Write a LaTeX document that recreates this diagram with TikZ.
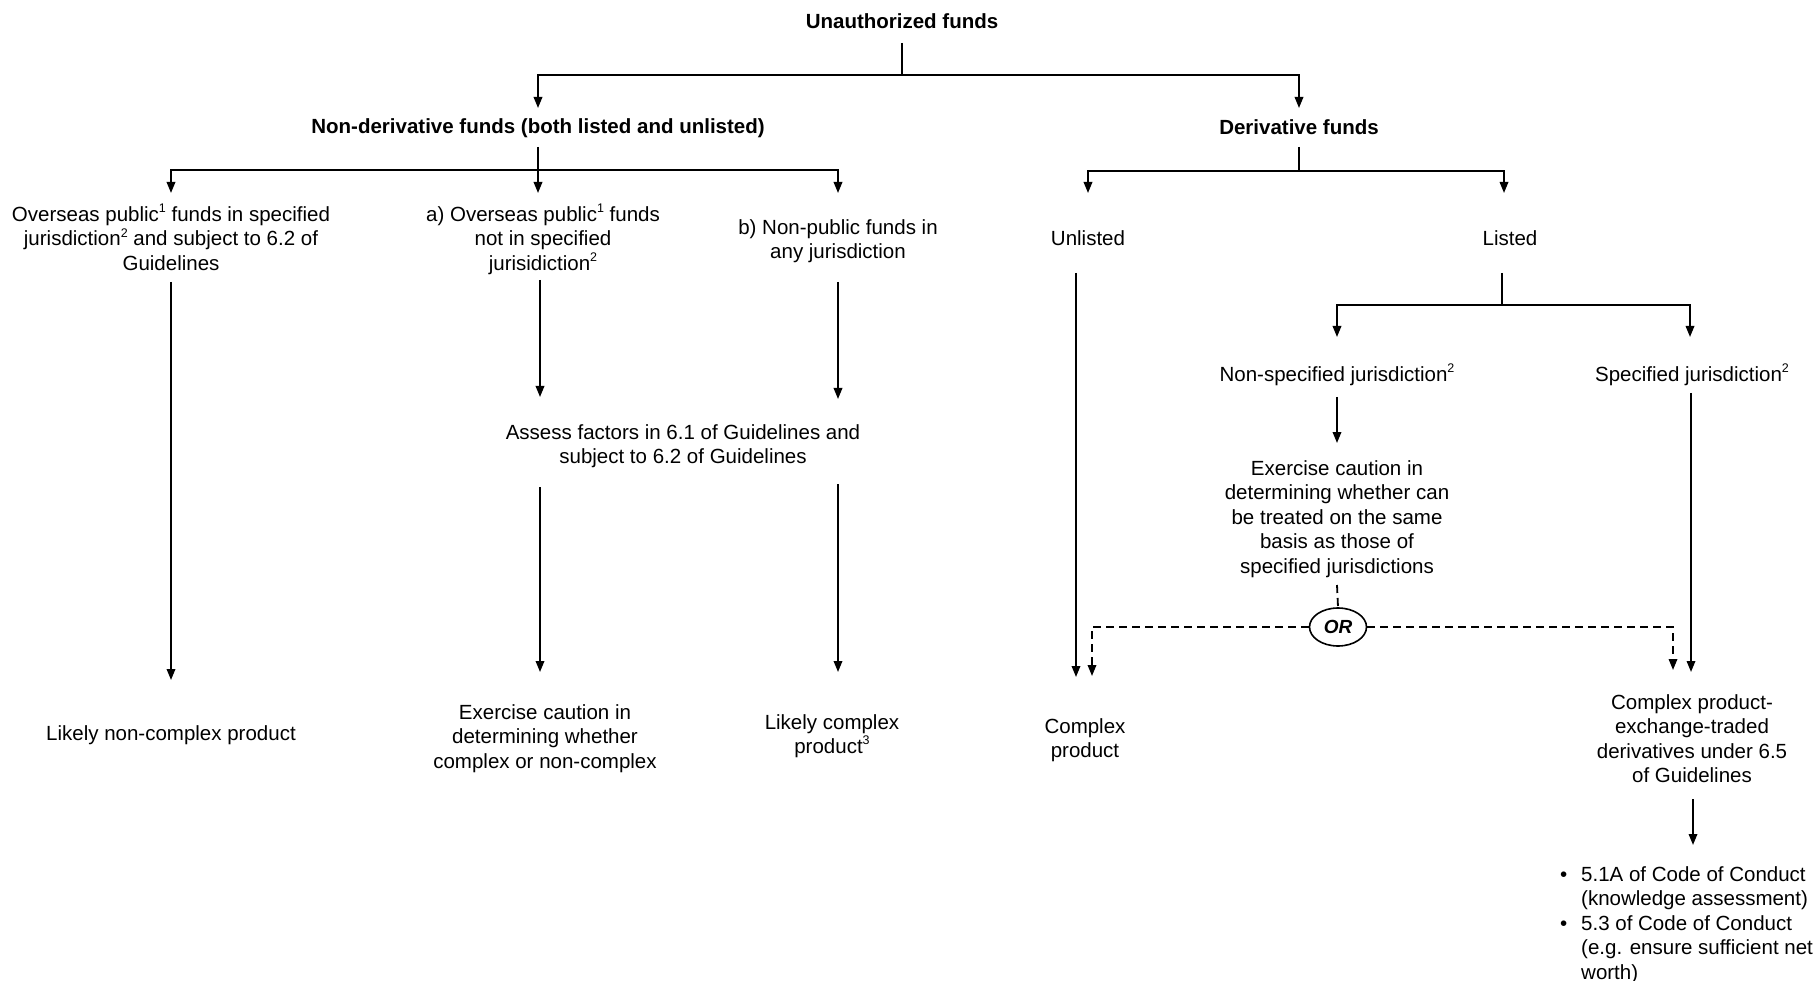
\documentclass[tikz,border=0pt]{standalone}
\usepackage{fontspec}
\setmainfont{Liberation Sans}
\usetikzlibrary{arrows.meta,shapes.geometric,calc}
\newcommand\supnum[1]{\raisebox{0.42em}{\fontsize{12.5}{12.5}\selectfont #1}}
\begin{document}
\begin{tikzpicture}[x=1pt,y=-1pt,
  txt/.style={align=center, inner sep=0pt, anchor=north, font=\fontsize{20.5}{24.5}\selectfont},
  btxt/.style={txt, font=\fontsize{20.5}{24.5}\selectfont\bfseries},
  ln/.style={line width=1.8pt},
  arr/.style={ln, -{Triangle[length=11pt,width=8.5pt]}},
  darr/.style={arr, dash pattern=on 8pt off 5pt},
  dln/.style={ln, dash pattern=on 8pt off 5pt},
  orbox/.style={ellipse, draw, line width=1.6pt, minimum width=57pt, minimum height=38pt, inner sep=0pt, font=\fontsize{19}{22}\selectfont\bfseries\itshape}
]
\fill[white] (0,0) rectangle (1815,981);
\useasboundingbox (0,0) rectangle (1815,981);

% nodes
\node[btxt] (top) at (902,13) {Unauthorized funds};
\node[btxt] (nd) at (538,118) {Non-derivative funds (both listed and unlisted)};
\node[btxt] (der) at (1299,119) {Derivative funds};
\node[txt] (ov) at (171,204) {Overseas public\supnum{1} funds in specified\\jurisdiction\supnum{2} and subject to 6.2 of\\Guidelines};
\node[txt] (a) at (543,204) {a) Overseas public\supnum{1} funds\\not in specified\\jurisidiction\supnum{2}};
\node[txt] (b) at (838,219) {b) Non-public funds in\\any jurisdiction};
\node[txt] (unl) at (1088,230) {Unlisted};
\node[txt] (lst) at (1510,230) {Listed};
\node[txt] (as) at (683,424) {Assess factors in 6.1 of Guidelines and\\subject to 6.2 of Guidelines};
\node[txt] (r1) at (171,725) {Likely non-complex product};
\node[txt] (r2) at (545,704) {Exercise caution in\\determining whether\\complex or non-complex};
\node[txt] (r3) at (832,714) {Likely complex\\product\supnum{3}};
\node[txt] (nsj) at (1337,364) {Non-specified jurisdiction\supnum{2}};
\node[txt] (sj) at (1692,364) {Specified jurisdiction\supnum{2}};
\node[txt] (ec) at (1337,460) {Exercise caution in\\determining whether can\\be treated on the same\\basis as those of\\specified jurisdictions};
\node[orbox] (or) at (1338,627) {OR};
\node[txt] (cp) at (1085,718) {Complex\\product};
\node[txt] (cpe) at (1692,694) {Complex product-\\exchange-traded\\derivatives under 6.5\\of Guidelines};
\node[txt, align=left, anchor=north west] (bl) at (1560,866) {\makebox[21pt][l]{\textbullet}5.1A of Code of Conduct\\\hspace*{21pt}(knowledge assessment)\\\makebox[21pt][l]{\textbullet}5.3 of Code of Conduct\\\hspace*{21pt}(e.g. ensure sufficient net\\\hspace*{21pt}worth)};

% connectors: top level
\draw[arr] (top.south |- 0,43) -- (top.south |- 0,75) -| (nd.north |- 0,108);
\draw[arr] (top.south |- 0,75) -| (der.north |- 0,108);
% non-derivative
\draw[arr] (nd.south |- 0,147) -- (nd.south |- 0,193);
\draw[arr] (nd.south |- 0,170) -| (ov.north |- 0,193);
\draw[arr] (nd.south |- 0,170) -| (b.north |- 0,193);
% derivative
\draw[ln] (der.south |- 0,147) -- (der.south |- 0,171);
\draw[arr] (der.south |- 0,171) -| (unl.north |- 0,193);
\draw[arr] (der.south |- 0,171) -| ($(lst.north |- 0,193)+(-6,0)$);
% non-derivative columns
\draw[arr] (ov.south |- 0,282) -- (r1.north |- 0,680);
\draw[arr] ($(a.south |- 0,280)+(-3,0)$) -- ($(a.south |- 0,397)+(-3,0)$);
\draw[arr] (b.south |- 0,282) -- (b.south |- 0,399);
\draw[arr] ($(r2.north |- 0,487)+(-5,0)$) -- ($(r2.north |- 0,672)+(-5,0)$);
\draw[arr] (b.south |- 0,484) -- (b.south |- 0,672);
% derivative columns
\draw[arr] ($(unl.south |- 0,273)+(-12,0)$) -- ($(cp.north |- 0,677)+(-9,0)$);
\draw[ln] ($(lst.south |- 0,273)+(-8,0)$) -- ($(lst.south |- 0,305)+(-8,0)$);
\draw[arr] ($(lst.south |- 0,305)+(-8,0)$) -| (nsj.north |- 0,337);
\draw[arr] ($(lst.south |- 0,305)+(-8,0)$) -| ($(sj.north |- 0,337)+(-2,0)$);
\draw[arr] (nsj.south |- 0,397) -- (ec.north |- 0,443);
\draw[arr] ($(sj.south |- 0,393)+(-1,0)$) -- ($(sj.south |- 0,672)+(-1,0)$);
\draw[dln] (ec.south |- 0,585) -- (or.north);
\draw[darr] (or.west) -| ($(cp.north |- 0,676)+(7,0)$);
\draw[darr] (or.east) -| ($(cpe.north |- 0,670)+(-19,0)$);
\draw[arr] ($(cpe.south |- 0,799)+(1,0)$) -- ($(cpe.south |- 0,845)+(1,0)$);
\end{tikzpicture}
\end{document}
